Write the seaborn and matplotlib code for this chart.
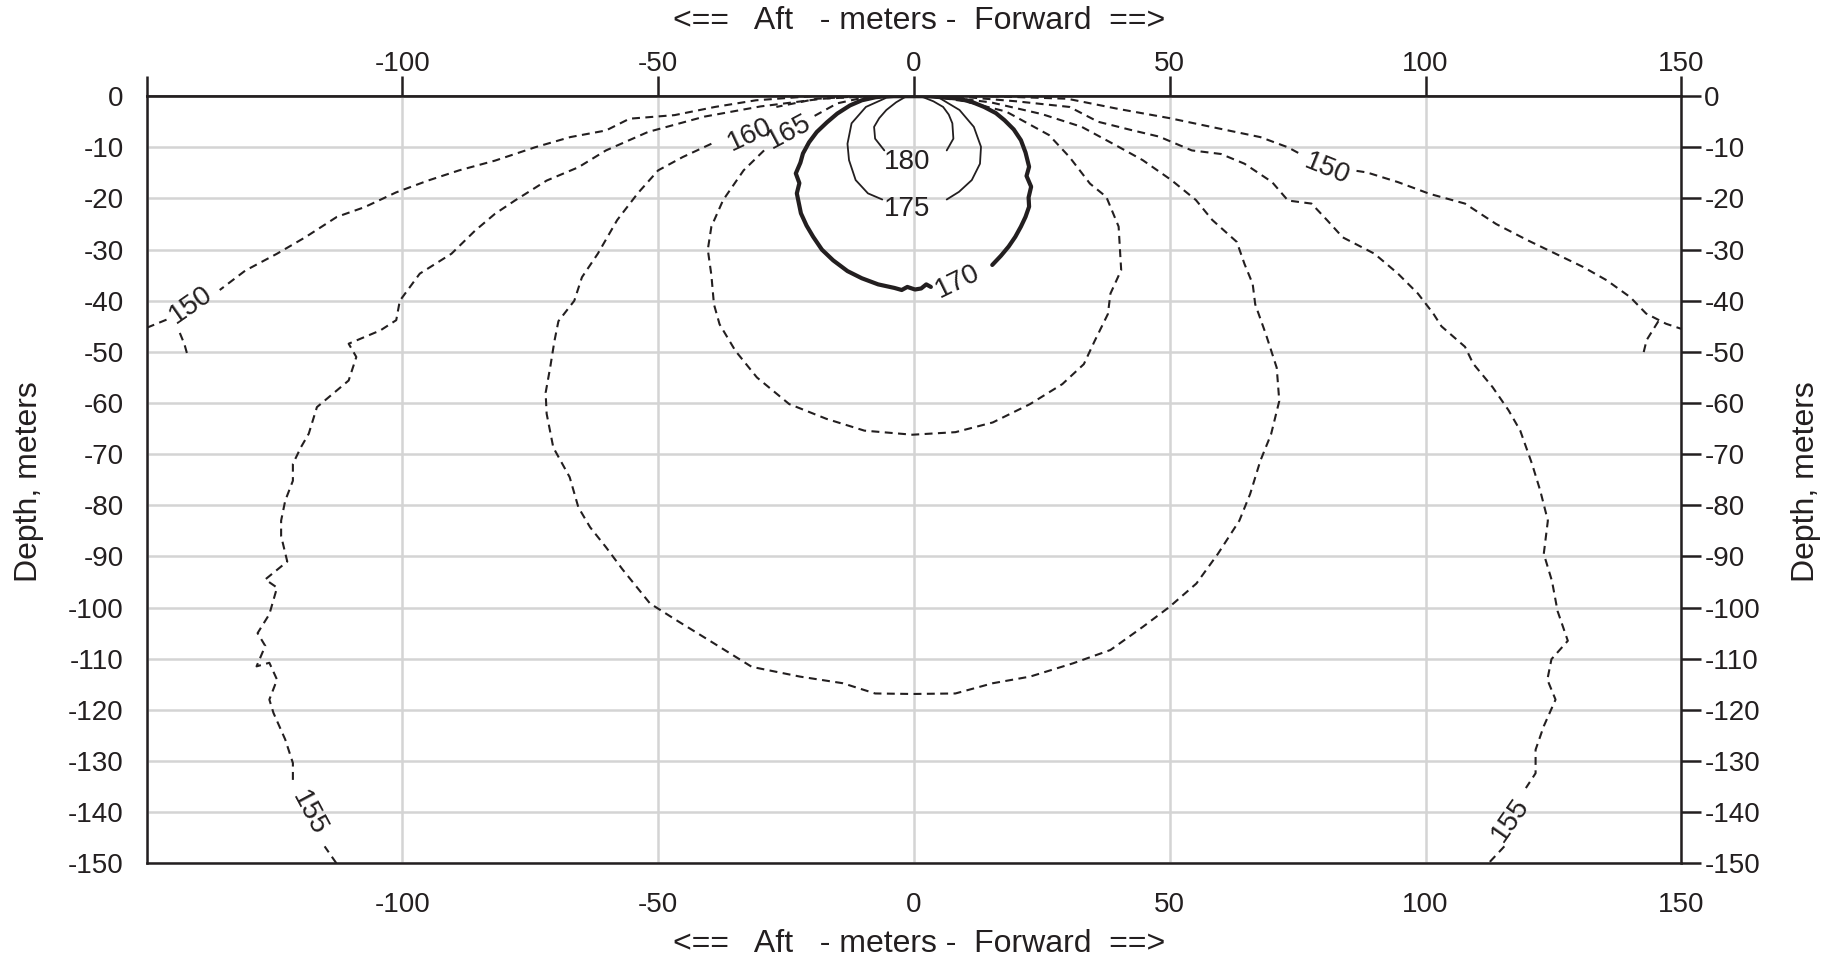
import numpy as np
import pandas as pd
import matplotlib
matplotlib.use('Agg')
import matplotlib.pyplot as plt
import seaborn as sns

nan = np.nan

# contour paths: range (m, aft < 0 < forward) and depth (m)
# nan marks the gap left for an inline label
c180_x = [-5.8, -7.6, -7.8, -6.8, -5.4, -3.5, -1.8, 0.0, 1.8, 3.8, 5.7, 6.8, 7.5, 7.7, 6.4]
c180_d = [-10.6, -8.3, -6.0, -4.3, -2.7, -1.2, -0.2, 0.0, -0.2, -1.0, -2.1, -3.6, -5.3, -8.3, -10.6]

c175_x = [-6.2, -9.0, -11.4, -12.7, -13.0, -12.2, -9.4, -5.4, -2.0, 0.0, 2.0, 4.9, 8.9, 11.7, 13.1, 12.9, 11.3, 8.8, 6.4]
c175_d = [-20.2, -19.0, -16.4, -12.5, -9.3, -5.3, -2.1, -0.3, 0.0, 0.0, 0.0, -0.3, -2.7, -6.0, -9.9, -13.2, -16.4, -18.7, -20.2]

c170_x = [3.3, 2.4, 1.4, 0.2, -1.3, -2.4, -3.8, -7.0, -10.2, -13.0, -15.8, -18.0, -19.7, -21.0, -22.1, -22.9, -22.4, -23.1, -22.2,
          -21.7, -20.5, -19.0, -17.0, -15.0, -12.5, -10.2, -7.5, -5.4, -2.5, 0.0, 2.5, 5.5, 8.9, 11.5, 13.7, 16.0, 17.7, 19.5,
          20.9, 21.8, 22.5, 22.0, 22.9, 22.4, 22.5, 21.8, 20.9, 19.8, 18.5, 17.0, 15.3]
c170_d = [-37.3, -36.8, -37.6, -37.8, -37.3, -37.9, -37.5, -36.8, -35.6, -34.2, -32.1, -30.0, -27.5, -25.3, -22.9, -19.0, -17.0, -15.1, -13.0,
          -11.2, -9.0, -7.0, -5.1, -3.4, -1.8, -0.8, -0.2, 0.0, 0.0, 0.0, 0.0, -0.2, -0.5, -1.2, -2.1, -3.3, -4.7, -6.5,
          -8.6, -11.0, -13.8, -15.6, -17.7, -19.8, -21.6, -23.6, -25.5, -27.5, -29.4, -31.2, -33.0]

c165_x = [-3.0, -10.0, -15.0, -19.7, nan, -29.3, -33.3, -37.3, -39.6, -40.3, -39.6, -39.1, -38.0, -34.9, -30.7, -24.4, -17.1, -9.7, -0.3,
          8.1, 15.4, 22.7, 29.0, 33.2, 35.3, 37.9, 38.4, 40.5, 40.3, 40.0, 37.6, 34.4, 30.4, 26.4, 18.0, 10.0, 3.0]
c165_d = [0.0, -0.3, -1.4, -4.0, nan, -10.6, -14.5, -20.3, -25.5, -30.0, -35.0, -40.7, -44.6, -49.8, -55.0, -60.2, -63.1, -65.4, -66.2,
          -65.7, -63.8, -60.2, -56.3, -52.4, -47.9, -42.6, -38.6, -34.0, -30.7, -25.5, -19.7, -17.1, -11.9, -7.6, -3.0, -1.0, 0.0]

c160_x = [-5.0, -11.8, -19.0, -26.9, nan, -39.6, -45.2, -50.0, -54.0, -58.0, -61.8, -64.9, -66.4, -69.5, -70.3, -71.1, -72.0, -71.8,
          -70.5, -67.3, -65.6, -63.3, -60.2, -57.0, -51.6, -46.4, -39.1, -31.7, -22.3, -13.9, -7.6, -0.3, 8.1, 15.4, 22.7, 31.1,
          38.4, 44.7, 49.9, 55.2, 59.4, 63.6, 65.7, 67.7, 69.8, 71.4, 70.9, 68.8, 66.7, 66.2, 64.6, 63.1, 58.3, 55.1, 50.3, 44.7,
          40.0, 32.8, 25.0, 15.0, 5.0]
c160_d = [0.0, -0.1, -0.5, -2.1, nan, -9.3, -11.9, -14.5, -19.0, -24.2, -30.8, -35.4, -40.0, -44.0, -48.0, -53.0, -58.0, -62.1,
          -68.7, -74.5, -80.4, -84.3, -88.2, -92.5, -99.2, -102.5, -107.0, -111.6, -113.5, -114.8, -116.8, -116.9, -116.8, -114.8, -113.5, -110.9,
          -108.3, -103.8, -99.9, -95.3, -89.5, -83.0, -77.8, -71.3, -66.1, -59.6, -53.1, -46.6, -40.7, -36.7, -32.8, -28.5, -24.2, -20.3, -16.4, -12.5,
          -9.9, -6.0, -3.5, -1.2, 0.0]

c155_x = [-112.9, -115.2, nan, -121.4, -121.4, -122.9, -125.2, -126.0, -124.5, -126.0, -128.5, -126.8, -128.3, -126.0, -124.5, -126.8,
          -122.5, -123.7, -123.7, -122.9, -121.4, -121.4, -119.8, -118.3, -117.5, -116.7, -113.6, -110.5, -109.0, -110.5, -104.3,
          -101.2, -100.5, -96.6, -90.4, -85.8, -81.9, -78.0, -71.8, -65.6, -60.2, -52.0, -41.0, -30.0, -18.0, -8.0, 8.0, 20.0, 30.4,
          36.0, 42.4, 47.9, 54.3, 60.0, 64.6, 70.0, 73.1, 77.7, 80.8, 83.8, 90.0, 94.6, 98.5, 101.5, 103.1, 107.7, 109.3, 113.1,
          116.2, 118.5, 120.8, 122.4, 123.9, 123.1, 124.7, 125.8, 127.8, 124.6, 123.8, 125.4, 123.1, 121.5, 121.5, 119.6, nan,
          115.4, 112.3]
c155_d = [-150.0, -146.7, nan, -133.7, -130.4, -125.8, -120.6, -118.0, -114.1, -110.8, -111.5, -107.5, -105.0, -101.3, -96.1, -94.5,
          -91.0, -86.0, -83.0, -79.1, -75.2, -71.9, -68.6, -66.0, -63.4, -60.8, -58.2, -55.6, -51.0, -48.4, -45.8,
          -43.8, -40.0, -34.7, -30.8, -26.3, -23.0, -20.4, -16.5, -13.9, -10.6, -7.0, -4.0, -2.0, -0.5, 0.0, 0.0, -1.0, -2.1,
          -5.0, -6.6, -7.9, -10.6, -11.3, -13.2, -16.8, -20.4, -21.0, -24.3, -27.6, -30.8, -34.7, -38.6, -42.5, -45.0, -49.0, -52.3, -56.9,
          -61.4, -65.4, -71.9, -77.1, -83.0, -89.5, -94.8, -100.7, -106.5, -110.1, -114.1, -118.0, -123.2, -127.8, -132.4, -135.3, nan,
          -146.7, -150.0]

c150_x = [-20.0, -30.9, -38.9, -46.8, -55.6, -60.2, -67.2, -74.1, -81.9, -88.9, -95.0, -101.2, -107.4, -112.8, -119.0, -124.5, -130.7,
          -135.7, nan, -146.1, -150.0]
c150_d = [0.0, -0.8, -2.1, -3.7, -4.4, -6.7, -8.0, -10.0, -12.6, -14.5, -16.5, -18.8, -21.7, -23.6, -27.6, -30.8, -34.1,
          -37.9, nan, -43.7, -45.3]
c150_stub_x = [-143.5, -142.6, -141.9]
c150_stub_d = [-46.3, -48.5, -51.0]

c150r_x = [15.0, 30.0, 40.0, 50.0, 60.0, 67.7, 73.1, 75.5, nan, 86.5, 88.5, 94.6, 100.8, 107.7, 113.8, 120.0, 125.4, 130.8, 135.4,
           140.0, 143.1, 147.0, 150.0]
c150r_d = [0.0, -0.5, -2.5, -4.3, -6.4, -8.0, -10.0, -11.3, nan, -14.6, -14.9, -16.8, -19.1, -21.0, -25.0, -28.2, -30.8, -33.4, -36.0,
           -39.3, -42.5, -44.5, -45.5]
c150r_stub_x = [145.5, 143.2, 142.4]
c150r_stub_d = [-44.0, -47.7, -51.0]

# inline contour labels
label_text = ['180', '175', '170', '165', '160', '155', '155', '150', '150']
label_x = [-1.4, -1.4, 8.6, -24.5, -32.1, -118.3, 116.5, -141.3, 80.8]
label_d = [-12.8, -22.0, -36.2, -7.0, -7.6, -140.2, -141.5, -40.9, -14.2]
label_rot = [0, 0, 26, 28, 25, -62, 55, 35, -22]

x_ticks = [-150, -100, -50, 0, 50, 100, 150]
x_tick_labels = ['', '-100', '-50', '0', '50', '100', '150']
y_ticks = list(range(0, -151, -10))
axis_title = '<==   Aft   - meters -  Forward  ==>'

sns.set_theme(style='white')
plt.rcParams['font.family'] = ['Liberation Sans', 'DejaVu Sans']
plt.rcParams['axes.unicode_minus'] = False

ink = '#231f20'


def segments(xs, ds):
    df = pd.DataFrame({'x': xs, 'depth': ds})
    grp = df['x'].isna().cumsum()
    return [g.dropna() for _, g in df.groupby(grp)]


def draw(ax, xs, ds, lw, dashed):
    for seg in segments(xs, ds):
        if len(seg) < 2:
            continue
        sns.lineplot(data=seg, x='x', y='depth', sort=False, estimator=None, ax=ax, color=ink,
                     lw=lw, linestyle=(0, (3.8, 2.6)) if dashed else '-', solid_joinstyle='round')


fig, ax = plt.subplots(figsize=(18.39, 9.63), dpi=100)
fig.subplots_adjust(left=0.0797, right=0.9143, top=0.9001, bottom=0.1036)

draw(ax, c180_x, c180_d, 1.3, False)
draw(ax, c175_x, c175_d, 1.3, False)
draw(ax, c170_x, c170_d, 3.0, False)
draw(ax, c165_x, c165_d, 1.5, True)
draw(ax, c160_x, c160_d, 1.5, True)
draw(ax, c155_x, c155_d, 1.5, True)
draw(ax, c150_x, c150_d, 1.5, True)
draw(ax, c150_stub_x, c150_stub_d, 1.5, True)
draw(ax, c150r_x, c150r_d, 1.5, True)
draw(ax, c150r_stub_x, c150r_stub_d, 1.5, True)

for t, x, d, r in zip(label_text, label_x, label_d, label_rot):
    ax.text(x, d, t, rotation=r, rotation_mode='anchor', ha='center', va='center', fontsize=20, color=ink)

ax.set_xlim(-150, 150)
ax.set_ylim(-150, 0)
ax.set_xticks(x_ticks)
ax.set_xticklabels(x_tick_labels)
ax.set_yticks(y_ticks)
ax.set_yticklabels([str(v) for v in y_ticks])
ax.set_xlabel('')
ax.set_ylabel('')
ax.grid(True, color='#d4d4d4', lw=1.8)
ax.set_axisbelow(True)
for s in ax.spines.values():
    s.set_color(ink)
    s.set_linewidth(1.8)
ax.tick_params(axis='both', direction='out', length=14.5, width=1.8, color=ink,
               labelsize=20, labelcolor=ink, right=True, labelright=True)
ax.tick_params(axis='x', top=False, labeltop=False, pad=6.5)
ax.tick_params(axis='y', pad=2)

top = ax.secondary_xaxis('top')
top.set_xticks(x_ticks)
top.set_xticklabels(x_tick_labels)
top.tick_params(direction='out', length=14.5, width=1.8, color=ink, labelsize=20, labelcolor=ink, pad=-1)
top.spines['top'].set_color(ink)
top.spines['top'].set_linewidth(1.8)

fig.text(0.5, 1 - 21 / 963, axis_title, fontsize=23, color=ink, ha='center', va='center')
fig.text(0.5, 1 - 944 / 963, axis_title, fontsize=23, color=ink, ha='center', va='center')
fig.text(29 / 1839, 0.5, 'Depth, meters', fontsize=23, color=ink, ha='center', va='center', rotation=90)
fig.text(1806 / 1839, 0.5, 'Depth, meters', fontsize=23, color=ink, ha='center', va='center', rotation=90)

fig.savefig('out.png', dpi=100)
